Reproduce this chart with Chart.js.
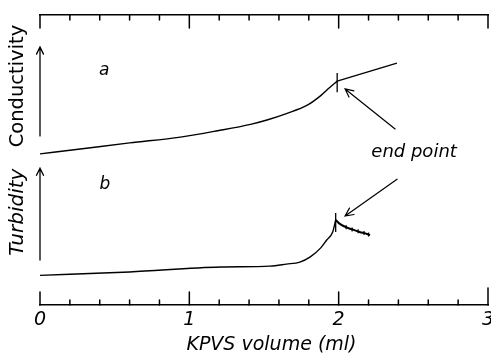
<!DOCTYPE html>
<html>
<head>
<meta charset="utf-8">
<script src="https://cdn.jsdelivr.net/npm/chart.js@4.4.0/dist/chart.umd.min.js"></script>
<style>
  html, body { margin: 0; padding: 0; background: #fff; }
  #wrap { width: 491px; height: 355px; position: relative; }
</style>
</head>
<body>
<div id="wrap"><canvas id="chart"></canvas></div>
<script>
// Conductometric (a) and turbidimetric (b) titration with KPVS.
// Y is in arbitrary units: 0..100 spans the whole frame.

const FONT = '"DejaVu Sans", sans-serif';

// curve a: conductivity, up to the end point and the straight part after it
const condX = [0, 0.27, 0.60, 0.94, 1.19, 1.41, 1.52, 1.65, 1.79, 1.88, 1.94, 1.99];
const condY = [52.1, 53.8, 55.9, 57.9, 60.1, 62.3, 63.8, 66.0, 68.9, 72.2, 75.0, 77.2];
const condAfterX = [1.99, 2.39];
const condAfterY = [77.2, 83.4];

// curve b: turbidity, rising part and the noisy tail after the peak
const turbX = [0, 0.60, 1.21, 1.54, 1.65, 1.74, 1.81, 1.88, 1.92, 1.96, 1.98];
const turbY = [10.2, 11.4, 13.1, 13.4, 14.1, 14.8, 16.6, 19.7, 22.4, 25.2, 29.3];
const turbTailX = [1.98, 2.01, 2.06, 2.10, 2.14, 2.19, 2.21];
const turbTailY = [29.3, 27.9, 26.6, 25.9, 25.2, 24.5, 24.1];
const tailNoiseX = [2.05, 2.09, 2.13, 2.17, 2.20];
const tailNoiseY = [26.8, 26.0, 25.4, 24.8, 24.3];

// short vertical marks at the end points
const endAX = [1.99, 1.99];
const endAY = [73.4, 80.0];
const endBX = [1.98, 1.98];
const endBY = [25.2, 31.7];

const xTickLabels = ['0', '1', '2', '3'];
const xTitle = 'KPVS volume (ml)';

function pts(xs, ys) {
    return xs.map((x, i) => ({ x: x, y: ys[i] }));
}

function arrow(ctx, x1, y1, x2, y2, size) {
    const ang = Math.atan2(y2 - y1, x2 - x1);
    ctx.beginPath();
    ctx.moveTo(x1, y1);
    ctx.lineTo(x2, y2);
    ctx.moveTo(x2 - size * Math.cos(ang - 0.45), y2 - size * Math.sin(ang - 0.45));
    ctx.lineTo(x2, y2);
    ctx.lineTo(x2 - size * Math.cos(ang + 0.45), y2 - size * Math.sin(ang + 0.45));
    ctx.stroke();
}

// inward axis ticks, arrows and the free text of the figure
const decorations = {
    id: 'decorations',
    afterDraw(chart) {
        const ctx = chart.ctx;
        const xs = chart.scales.x;
        const ys = chart.scales.y;
        const area = chart.chartArea;
        const px = v => xs.getPixelForValue(v);
        const py = v => ys.getPixelForValue(v);

        ctx.save();
        ctx.strokeStyle = '#000';
        ctx.fillStyle = '#000';
        ctx.lineCap = 'round';

        // ticks every 0.2 ml on the bottom and top axes, pointing inwards
        ctx.lineWidth = 1.5;
        for (let i = 0; i <= 15; i++) {
            const x = px(i * 0.2);
            const major = i % 5 === 0;
            const len = major ? 13 : 5;
            ctx.beginPath();
            ctx.moveTo(x, area.bottom);
            ctx.lineTo(x, area.bottom - (i === 15 ? 17 : len));
            ctx.moveTo(x, area.top);
            ctx.lineTo(x, area.top + len);
            ctx.stroke();
        }

        // upward arrows for the two signal axes
        ctx.lineWidth = 1.3;
        arrow(ctx, px(0), py(58.3), px(0), py(89.0), 8);
        arrow(ctx, px(0), py(15.5), px(0), py(47.2), 8);

        // arrows pointing at the end points
        ctx.lineWidth = 1.2;
        arrow(ctx, px(2.378), py(60.7), px(2.043), py(74.5), 9);
        arrow(ctx, px(2.391), py(43.4), px(2.043), py(30.7), 9);

        ctx.textAlign = 'center';
        ctx.textBaseline = 'middle';

        ctx.font = 'italic 18px ' + FONT;
        ctx.fillText('end point', px(2.505), py(52.6));
        ctx.font = 'italic 17px ' + FONT;
        ctx.fillText('a', px(0.43), py(80.7));
        ctx.fillText('b', px(0.435), py(41.5));

        // axis title sits a bit right of the frame centre in the original
        ctx.font = 'italic 19px ' + FONT;
        ctx.fillText(xTitle, px(1.55), area.bottom + 40);

        // rotated axis names
        ctx.save();
        ctx.translate(px(-0.145), py(75.5));
        ctx.rotate(-Math.PI / 2);
        ctx.font = '19.5px ' + FONT;
        ctx.fillText('Conductivity', 0, 0);
        ctx.restore();

        ctx.save();
        ctx.translate(px(-0.15), py(32.0));
        ctx.rotate(-Math.PI / 2);
        ctx.font = 'italic 20px ' + FONT;
        ctx.fillText('Turbidity', 0, 0);
        ctx.restore();

        ctx.restore();
    }
};

const lineStyle = {
    borderColor: '#000',
    backgroundColor: '#000',
    borderWidth: 1.4,
    pointRadius: 0,
    fill: false
};

// keep the frame exactly where the layout padding puts it
function noSidePadding(s) {
    s.paddingLeft = 0;
    s.paddingRight = 0;
}

new Chart(document.getElementById('chart').getContext('2d'), {
    type: 'line',
    data: {
        datasets: [
            Object.assign({ data: pts(condX, condY), cubicInterpolationMode: 'monotone' }, lineStyle),
            Object.assign({ data: pts(condAfterX, condAfterY) }, lineStyle),
            Object.assign({ data: pts(turbX, turbY), cubicInterpolationMode: 'monotone' }, lineStyle),
            Object.assign({ data: pts(turbTailX, turbTailY), cubicInterpolationMode: 'monotone' }, lineStyle, { borderWidth: 2 }),
            Object.assign({ data: pts(endAX, endAY) }, lineStyle, { borderWidth: 1.3 }),
            Object.assign({ data: pts(endBX, endBY) }, lineStyle, { borderWidth: 1.3 }),
            {
                type: 'scatter',
                data: pts(tailNoiseX, tailNoiseY),
                showLine: false,
                pointStyle: 'line',
                rotation: 90,
                pointRadius: 2,
                borderColor: '#000',
                borderWidth: 1.2
            }
        ]
    },
    options: {
        responsive: true,
        maintainAspectRatio: false,
        animation: false,
        layout: {
            autoPadding: false,
            padding: { left: 40, right: 3, top: 15, bottom: 0 }
        },
        plugins: {
            legend: { display: false },
            tooltip: { enabled: false }
        },
        scales: {
            x: {
                type: 'linear',
                position: 'bottom',
                min: 0,
                max: 3,
                afterFit: s => { s.height = 50; noSidePadding(s); },
                grid: { display: false, drawTicks: false },
                border: { display: true, color: '#000', width: 1.6 },
                ticks: {
                    stepSize: 1,
                    color: '#000',
                    padding: 4,
                    maxRotation: 0,
                    font: { family: FONT, size: 19, style: 'italic' },
                    callback: v => xTickLabels[v]
                },
                title: { display: false }
            },
            xTop: {
                type: 'linear',
                position: 'top',
                min: 0,
                max: 3,
                afterFit: s => { s.height = 0; noSidePadding(s); },
                grid: { display: false, drawTicks: false },
                ticks: { display: false },
                border: { display: true, color: '#000', width: 1.6 }
            },
            y: {
                display: false,
                min: 0,
                max: 100
            }
        }
    },
    plugins: [decorations]
});
</script>
</body>
</html>
